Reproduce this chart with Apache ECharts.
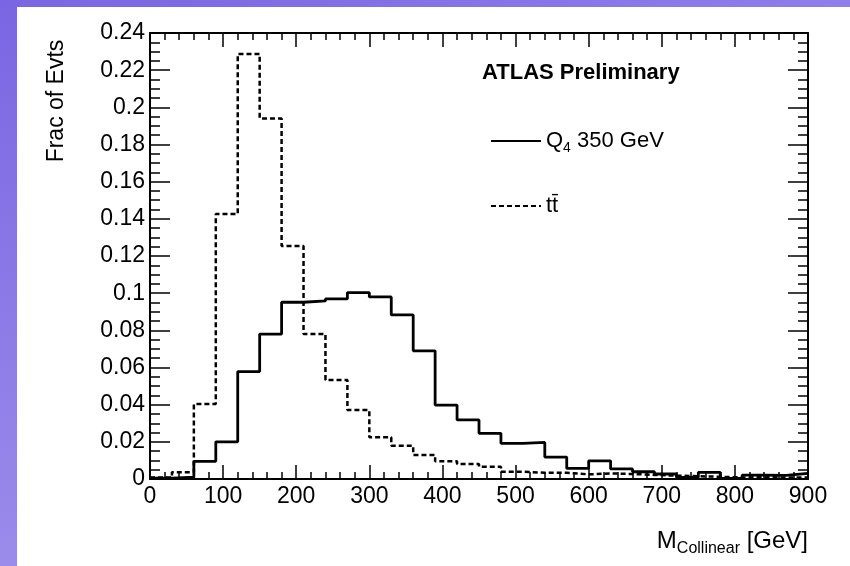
<!DOCTYPE html>
<html>
<head>
<meta charset="utf-8">
<script src="https://cdn.jsdelivr.net/npm/echarts@6/dist/echarts.min.js"></script>
<style>
html,body{margin:0;padding:0;background:#fff;}
#c{width:850px;height:566px;}
</style>
</head>
<body>
<div id="c"></div>
<script>
// Bin lower edges (GeV), bin width 30 GeV, last edge 900
var binLow = [0,30,60,90,120,150,180,210,240,270,300,330,360,390,420,450,480,510,540,570,600,630,660,690,720,750,780,810,840,870];
var binHigh = 900;
// Q4 350 GeV signal (solid)
var q4Values = [0.0005,0.001,0.0095,0.020,0.0578,0.078,0.0951,0.0958,0.0969,0.1003,0.098,0.0883,0.069,0.0398,0.0318,0.0246,0.0192,0.0197,0.0118,0.0057,0.0098,0.0054,0.0039,0.0027,0.0009,0.0036,0.0003,0.0021,0.002,0.003];
// ttbar background (dashed)
var ttValues = [0.0008,0.0036,0.0404,0.1426,0.2287,0.194,0.1254,0.078,0.0533,0.0371,0.0224,0.0179,0.0129,0.0096,0.0081,0.0066,0.0039,0.0034,0.0034,0.0025,0.003,0.0027,0.0022,0.0018,0.0015,0.0012,0.0008,0.001,0.0008,0.0008];
var xTicks = [0,100,200,300,400,500,600,700,800,900];
var yTicks = [0,0.02,0.04,0.06,0.08,0.1,0.12,0.14,0.16,0.18,0.2,0.22,0.24];
var seriesNames = ['Q4 350 GeV', 't t\u0304'];

function histData(vals){
  var d = binLow.map(function(x,i){ return [x, vals[i]]; });
  d.push([binHigh, vals[vals.length-1]]);
  return d;
}

var FONT = '"Liberation Sans", Arial, Helvetica, sans-serif';
var chart = echarts.init(document.getElementById('c'), null, {renderer:'canvas'});

var axisLine = {show:true, onZero:false, lineStyle:{color:'#000', width:2}};
var tickStyle = {color:'#000', width:1.5};
option = {
  backgroundColor:'#ffffff',
  animation:false,
  grid:{left:150, right:42, top:33, bottom:87, containLabel:false},
  xAxis:[{
    type:'value', position:'bottom', min:xTicks[0], max:xTicks[xTicks.length-1], interval:100,
    axisLine:axisLine,
    axisTick:{show:true, inside:true, length:14, lineStyle:tickStyle},
    minorTick:{show:true, splitNumber:5, length:7, lineStyle:tickStyle},
    splitLine:{show:false},
    axisLabel:{color:'#000', fontFamily:FONT, fontSize:23, margin:6,
      showMinLabel:true, showMaxLabel:true}
  },{
    type:'value', position:'top', min:xTicks[0], max:xTicks[xTicks.length-1], interval:100,
    axisLine:axisLine,
    axisTick:{show:true, inside:true, length:14, lineStyle:tickStyle},
    minorTick:{show:true, splitNumber:5, length:7, lineStyle:tickStyle},
    splitLine:{show:false}, axisLabel:{show:false}
  }],
  yAxis:[{
    type:'value', position:'left', min:yTicks[0], max:yTicks[yTicks.length-1], interval:0.02,
    axisLine:axisLine,
    axisTick:{show:true, inside:true, length:20, lineStyle:tickStyle},
    minorTick:{show:true, splitNumber:4, length:10, lineStyle:tickStyle},
    splitLine:{show:false},
    axisLabel:{color:'#000', fontFamily:FONT, fontSize:23, margin:5,
      formatter:function(v){ return String(Math.round(v*100)/100); }}
  },{
    type:'value', position:'right', min:yTicks[0], max:yTicks[yTicks.length-1], interval:0.02,
    axisLine:axisLine,
    axisTick:{show:true, inside:true, length:20, lineStyle:tickStyle},
    minorTick:{show:true, splitNumber:4, length:10, lineStyle:tickStyle},
    splitLine:{show:false}, axisLabel:{show:false}
  }],
  legend:{
    orient:'vertical', left:485, top:125, itemWidth:50, itemHeight:14, itemGap:40,
    data:seriesNames,
    itemStyle:{opacity:0, borderWidth:0},
    textStyle:{color:'#000', fontFamily:FONT, fontSize:22,
      rich:{
        n:{fontFamily:FONT, fontSize:22, color:'#000'},
        s:{fontFamily:FONT, fontSize:14, color:'#000', padding:[14,0,0,0]}
      }},
    formatter:function(name){
      if(name === seriesNames[0]) return '{n|Q}{s|4}{n| 350 GeV}';
      return '{n|' + name.replace(' ','') + '}';
    }
  },
  series:[{
    name:seriesNames[0], type:'line', step:'end', symbol:'none', showSymbol:false,
    xAxisIndex:0, yAxisIndex:0,
    lineStyle:{color:'#000', width:2.8, type:'solid'},
    itemStyle:{color:'#000'},
    data:histData(q4Values), z:3
  },{
    name:seriesNames[1], type:'line', step:'end', symbol:'none', showSymbol:false,
    xAxisIndex:0, yAxisIndex:0,
    lineStyle:{color:'#000', width:2.5, type:[5,3]},
    itemStyle:{color:'#000'},
    data:histData(ttValues), z:2
  }],
  graphic:[
    {type:'rect', left:0, top:0, z:-10, shape:{width:850, height:7},
      style:{fill:new echarts.graphic.LinearGradient(0,0,1,0,[{offset:0,color:'#7a66e2'},{offset:1,color:'#8f7deb'}])}},
    {type:'rect', left:0, top:0, z:-10, shape:{width:17, height:566},
      style:{fill:new echarts.graphic.LinearGradient(0,0,0,1,[{offset:0,color:'#7a66e2'},{offset:1,color:'#9b8bea'}])}},
    {type:'text', left:482, top:62, style:{text:'ATLAS Preliminary', fontFamily:FONT, fontWeight:'bold', fontSize:22, fill:'#000'}},
    {type:'text', x:57, y:101, rotation:Math.PI/2,
      style:{text:'Frac of Evts', fontFamily:FONT, fontSize:23, fill:'#000', align:'center', verticalAlign:'middle'}},
    {type:'text', x:808, y:541,
      style:{text:'{m|M}{s|Collinear}{m| [GeV]}', align:'right', verticalAlign:'middle',
        rich:{m:{fontFamily:FONT, fontSize:24, fill:'#000', color:'#000'},
              s:{fontFamily:FONT, fontSize:16, fill:'#000', color:'#000', padding:[16,0,0,0]}}}}
  ]
};
var option;
chart.setOption(option);
</script>
</body>
</html>
